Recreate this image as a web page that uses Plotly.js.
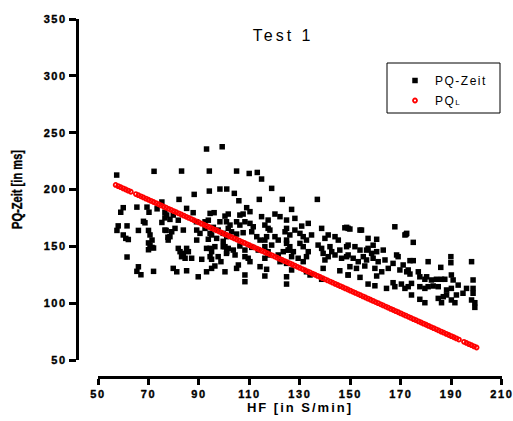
<!DOCTYPE html>
<html>
<head>
<meta charset="utf-8">
<script src="https://cdn.plot.ly/plotly-3.0.1.min.js"></script>
<style>
  html, body { margin: 0; padding: 0; background: #fff; }
  #chart { width: 513px; height: 421px; }
  .xtick text, .ytick text { letter-spacing: 1.6px; font-weight: bold !important; stroke: #000; stroke-width: 0.35px; }
  text.gtitle { letter-spacing: 3px; }
  text.xtitle { letter-spacing: 2px; font-weight: bold !important; transform: translateY(-5px); }
  text.ytitle { font-weight: bold !important; stroke: #000; stroke-width: 0.4px; }
  text.legendtext { letter-spacing: 1.5px; }
</style>
</head>
<body>
<div id="chart"></div>
<script>
// PQ-Zeit measurements: heart rate (HF, S/min) and PQ time (ms)
const hf = [
57.4,72.2,75.3,60,59,65.4,69.4,70.2,73.4,76.5,76.5,75.3,68,68.6,58,57.5,61.5,60,61,62,66,70,77,77.7,70.6,71.4,70,70.6,71.4,70,72,61.5,66,65.4,67,72,
93,99.2,83.1,94.1,88.1,82.1,94.1,98.3,101,85.1,87.7,94.4,96,100.3,77.2,78.5,79.8,81.8,89,92.4,93.7,98.3,100.9,76.5,79.2,80.5,83.8,89.1,90.4,92.4,94.4,95.7,97.6,99.6,101.6,78.5,77.8,89.1,93.7,95,97,99.6,101,81.8,82.5,85.1,85.8,93,94.4,95,96.3,99.6,101,83.1,83.8,84.5,87.1,91.1,94.4,95,97.6,98.7,79.8,81.2,85.1,93,95,96.3,100.3,89.7,
104.9,109.9,113.1,114.8,118.8,104,105.8,113.9,123,108.9,110.2,101.6,106.2,107.5,114.8,117.4,120.1,122.1,124.7,102.3,104.9,106.2,108.2,110.2,111.5,116.1,117.4,118.1,124.7,102.9,104.9,107.5,110.9,112.9,114.2,116.1,116.8,120.1,121.4,124.7,100.3,101.6,103.6,106.2,108.2,110.9,113.5,116.1,117.4,118.8,121.4,123.4,125.4,100.9,104.3,108.2,109.5,110.2,116.1,117.4,122.1,124.7,105.6,104.9,114.2,116.8,108.2,108.2,116.1,124.7,124.7,
136.9,126.7,128,130.7,133.3,138.6,148.5,124.1,126,128,130,131.3,132.6,134.6,139.9,141.2,143.9,145.2,124.7,126,125.4,127.4,130,131.3,133.3,137.2,138.6,139.2,141.9,142.6,143.9,145.8,146.5,148.5,149.1,126.7,129.3,131.3,132.6,139.9,141.2,126.7,139.2,145.8,149.1,132.6,134,138.6,147.8,149.8,
149.1,153.8,167.6,171.6,157,160.4,149.1,151.8,153.8,157,158.4,160.4,163,168.3,168.9,148.5,151.1,153.1,155.1,156.4,159,161,163.7,166.9,170.9,149.8,152.4,155.7,159.7,162.4,165,169.6,172.3,149.1,153.8,160.4,157,159.7,164.3,167.6,170.2,171.6,166.9,172,174.9,154.4,159,156.4,
172.3,189.8,189.8,198,180.8,173.6,174.9,185.8,172.9,173.6,176.9,177.5,179.5,180.2,182.1,184.1,186.1,187.4,190,190.7,198.6,174.2,177.5,179.5,180.8,182.8,184.8,188.1,190,192.7,196,198.6,198.6,172.9,174.2,177.5,179.5,184.8,186.8,186.1,188.1,190,191.4,192,198,199.3,199.3,194.6
];
const pq = [
212.7,216,189,184,180,184.5,184.5,180,183,180,175,171,172,170.7,168,164,168,160,157,156,164,164,164,158,160,155.5,153,151,149,147,148.5,140.6,132,128,125,128,
235.6,237.6,216.2,216.2,195.7,191.3,198.6,200.4,200.4,183.4,179.6,179,179.6,176.6,177.5,173.7,177.5,173,171.6,171.6,173,171.6,171.6,164.3,162.8,165.8,164.3,164.3,161.4,165.8,161.4,166.7,164.3,161.4,165.8,158.5,155.5,155.5,156.2,160,157,154.4,158.5,148.2,145.3,148.2,145.3,148.2,148.2,145.3,149.7,149.7,145.3,140.9,143.8,139.5,139.5,138.6,140.9,138.6,140.9,136.5,130.6,127.6,128.5,127.6,130.6,132.7,127.6,123.2,
216.2,214.1,215,209.2,201,196.6,190.1,191.3,191.3,184,180.5,178.4,177.5,178.4,176.1,173.1,178.4,176.1,173.1,168.7,171.6,168.7,171.6,170.2,167.2,168.7,165.8,164.3,165.8,162.8,160.8,162,162.8,158.5,155.5,155.5,158.5,158.5,155.5,155.5,149.7,148.2,146.7,150.3,146.7,149.1,146.7,149.7,145.3,151.1,142.4,145.3,146.7,143.8,142.4,140.9,139.5,136.5,139.5,142.4,136.5,135,133.6,130.6,132.1,129.8,124.8,118.9,123.9,123.2,116.8,
191.3,182.5,174.6,167.8,170.2,165.8,166.7,162.8,160,164.3,161.4,158.5,155.5,160,157,160,158.5,155.5,152.6,149.7,146.7,145.3,152.6,149.7,145.3,151.1,148.2,143.8,149.7,145.3,142.4,146.7,139.5,149.7,142.4,140.9,139.5,136.5,140.9,138,140.9,129.2,130.6,128.5,124.8,127.6,124.8,121,166.3,165.2,
165.8,164.3,167.2,160,157,156.2,151.1,149.7,146.7,148.2,143.8,145.3,146.7,142.4,140.9,140.9,139.5,136.5,140.9,138,139.5,136.5,138,135,133.6,132.1,130.6,132.7,130.6,127.6,130.6,129.2,127.6,124.8,122.7,123.9,116.8,115.3,113,114.5,116.8,113,118,160.5,153.5,164.3,151,146.7,
161.4,140.9,135.6,136.5,136.5,137.4,137.4,131.5,129.2,125.6,127.6,123.2,121,123.2,120.4,121,121,121,124.8,120.4,120.4,117.4,114.5,113,114.5,115.1,114.5,111.6,113,115.9,113,113,108.7,114.5,107.2,103.4,100.4,104.2,105.7,100.4,107.2,102.8,100.4,107.2,102.8,100.4,96.3,108.7
];
// PQL (predicted PQ time) read along the red band
const pqlHF = [57,58,59,60,61,62,63,65,66,67,68,69,70,71,72,73,74,75,76,77,78,79,80,81,82,83,84,85,86,87,88,89,90,91,92,93,94,95,96,97,98,99,100,101,102,103,104,105,106,107,108,109,110,111,112,113,114,115,116,117,118,119,120,121,122,123,124,125,126,127,128,129,130,131,132,133,134,135,136,137,138,139,140,141,142,143,144,145,146,147,148,149,150,151,152,153,154,155,156,157,158,159,160,161,162,163,164,165,166,167,168,169,170,171,172,173,174,175,176,177,178,179,180,181,182,183,184,185,186,187,188,189,190,191,192,193,195,196,197,198,199,200];
const pqlVal = [204,203,202,201,200,199,198,196,195,194,193,192,191,190,189,188,187,186,185,184,183,182,181,180,179,178,177,176,175,174,173,172,171,170,169,168,167,166,165,164,163,162,161,160,159,158,157,156,155,154,153,152,151,150,149,148,147,146,145,144,143,142,141,140,139,138,137,136,135,134,133,132,131,130,129,128,127,126,125,124,123,122,121,120,119,118,117,116,115,114,113,112,111,110,109,108,107,106,105,104,103,102,101,100,99,98,97,96,95,94,93,92,91,90,89,88,87,86,85,84,83,82,81,80,79,78,77,76,75,74,73,72,71,70,69,68,66,65,64,63,62,61];

const xTicks = [50,70,90,110,130,150,170,190,210];
const yTicks = [50,100,150,200,250,300,350];

const tickFont = {family: 'Liberation Sans, Arial, sans-serif', size: 11, color: '#000', weight: 'bold'};

const data = [
  {
    x: hf, y: pq, type: 'scatter', mode: 'markers', name: 'PQ-Zeit',
    legendgroup: 'a',
    marker: {symbol: 'square', size: 5.5, color: '#000'},
    hoverinfo: 'skip'
  },
  {
    x: pqlHF, y: pqlVal, type: 'scatter', mode: 'markers',
    name: 'PQ<span style="font-size:8px">L</span>',
    legendgroup: 'b',
    marker: {symbol: 'circle-open', size: 4, color: '#ff0000', line: {width: 1.8, color: '#ff0000'}},
    hoverinfo: 'skip'
  }
];

const layout = {
  width: 513, height: 421,
  margin: {l: 77, r: 11, t: 19, b: 44, pad: 0},
  paper_bgcolor: '#fff', plot_bgcolor: '#fff',
  showlegend: true,
  title: {
    text: 'Test 1', xref: 'paper', x: 0.485, xanchor: 'center',
    yref: 'container', y: 1 - 35/421, yanchor: 'middle',
    font: {family: 'Liberation Sans, Arial, sans-serif', size: 16, color: '#000'}
  },
  xaxis: {
    range: [49.99, 210.06], domain: [0.0494, 1], anchor: 'free', position: 0,
    tickmode: 'array', tickvals: xTicks, ticktext: xTicks.map(String),
    ticklabeloverflow: 'allow',
    showgrid: false, zeroline: false,
    showline: true, linecolor: '#000', linewidth: 3,
    ticks: 'outside', ticklen: 6, tickwidth: 3, tickcolor: '#000',
    tickfont: tickFont,
    title: {text: 'HF [in S/min]', standoff: 0,
      font: {family: 'Liberation Sans, Arial, sans-serif', size: 13, color: '#000', weight: 'bold'}}
  },
  yaxis: {
    range: [50, 350], domain: [0.0475, 1], anchor: 'free', position: 0,
    tickmode: 'array', tickvals: yTicks, ticktext: yTicks.map(String),
    ticklabeloverflow: 'allow',
    showgrid: false, zeroline: false,
    showline: true, linecolor: '#000', linewidth: 3,
    ticks: 'outside', ticklen: 7, tickwidth: 3, tickcolor: '#000',
    tickfont: tickFont,
    title: {text: 'PQ-Zeit [in ms]', standoff: 16,
      font: {family: 'Liberation Sans, Arial, sans-serif', size: 15, color: '#000', weight: 'bold'}}
  },
  legend: {
    x: (395-77)/425, xanchor: 'left', y: (377-66)/358, yanchor: 'top',
    bgcolor: 'rgba(0,0,0,0)', borderwidth: 0,
    traceorder: 'grouped', tracegroupgap: 1,
    font: {family: 'Liberation Sans, Arial, sans-serif', size: 12, color: '#000'},
    itemclick: false, itemdoubleclick: false
  },
  shapes: [{
    type: 'rect', xref: 'paper', yref: 'paper',
    x0: (387-77)/425, x1: (500-77)/425, y0: (377-113)/358, y1: (377-63)/358,
    line: {color: '#000', width: 1}, fillcolor: 'rgba(0,0,0,0)'
  }]
};

Plotly.newPlot('chart', data, layout, {staticPlot: true, displayModeBar: false}).then(function (gd) {
  // the original y title is set in a condensed face: squeeze it to the same length
  var t = gd.querySelector('text.ytitle');
  if (t) {
    t.setAttribute('textLength', '79');
    t.setAttribute('lengthAdjust', 'spacingAndGlyphs');
  }
});
</script>
</body>
</html>
